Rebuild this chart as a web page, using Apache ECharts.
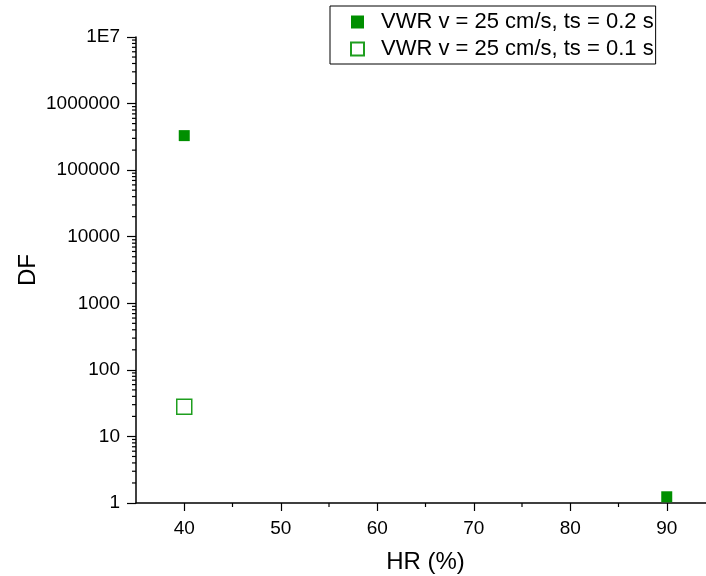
<!DOCTYPE html>
<html lang="en">
<head>
    <meta charset="UTF-8">
    <title>DF vs HR</title>
    <script src="https://cdn.jsdelivr.net/npm/echarts@6.0.0/dist/echarts.min.js"></script>
    <style>
        body { margin: 0; background: #fff; }
    </style>
</head>
<body>
    <div id="main" style="width: 706px;height:576px;"></div>
    <script type="text/javascript">
        // data
        const seriesNames = ['VWR v = 25 cm/s, ts = 0.2 s', 'VWR v = 25 cm/s, ts = 0.1 s'];
        const hrFilled = [40, 90];
        const dfFilled = [330000, 1.24];
        const hrOpen = [40];
        const dfOpen = [28];
        const xMinorTicks = [45, 55, 65, 75, 85];
        const yDecades = [1, 10, 100, 1000, 10000, 100000, 1000000];
        const yMinorSteps = [2, 3, 4, 5, 6, 7, 8, 9];

        const yMinorTicks = [];
        yDecades.forEach(d => yMinorSteps.forEach(s => yMinorTicks.push(d * s)));

        const font = 'Arial, "Liberation Sans", sans-serif';

        // short tick drawn through the axes' own scales
        function minorTick(dir) {
            return function (params, api) {
                const p = api.coord([api.value(0), api.value(1)]);
                const shape = dir === 'y'
                    ? { x1: p[0] - 4, y1: p[1], x2: p[0], y2: p[1] }
                    : { x1: p[0], y1: p[1], x2: p[0], y2: p[1] + 4 };
                return { type: 'line', shape: shape, style: { stroke: '#000', lineWidth: 1.2 } };
            };
        }

        let myChart = echarts.init(document.getElementById('main'));

        let options = {
            animation: false,
            grid: { left: 136, top: 37, right: -9, bottom: 73, outerBoundsMode: 'none', containLabel: false },
            legend: {
                orient: 'vertical',
                left: 330, top: 6,
                padding: [5, 2, 4, 20],
                borderColor: '#000',
                borderWidth: 1,
                itemWidth: 13, itemHeight: 13,
                itemGap: 5,
                textStyle: { fontFamily: font, fontSize: 22, color: '#000', padding: [0, 0, 0, 12] },
                data: seriesNames
            },
            xAxis: {
                type: 'value',
                min: 35, max: 95,
                name: 'HR (%)',
                nameLocation: 'middle',
                nameGap: 47,
                nameMoveOverlap: false,
                nameTextStyle: { fontFamily: font, fontSize: 24, color: '#000' },
                axisLine: { lineStyle: { color: '#000', width: 1.5 } },
                axisTick: { show: true, length: 8, lineStyle: { color: '#000', width: 1.2 } },
                axisLabel: { fontFamily: font, fontSize: 19, color: '#000', margin: 16, showMinLabel: false, showMaxLabel: false },
                splitLine: { show: false }
            },
            yAxis: {
                type: 'log',
                logBase: 10,
                min: 1, max: 10000000,
                splitNumber: 7,
                name: 'DF',
                nameLocation: 'middle',
                nameGap: 96,
                nameMoveOverlap: false,
                nameTextStyle: { fontFamily: font, fontSize: 24, color: '#000' },
                axisLine: { lineStyle: { color: '#000', width: 1.5 } },
                axisTick: { show: true, length: 9, lineStyle: { color: '#000', width: 1.2 } },
                axisLabel: {
                    fontFamily: font, fontSize: 19, color: '#000', margin: 16,
                    formatter: v => v >= 10000000 ? '1E7' : String(Math.round(v))
                },
                splitLine: { show: false }
            },
            series: [
                {
                    name: seriesNames[0],
                    type: 'scatter',
                    symbol: 'rect',
                    symbolSize: 11,
                    itemStyle: { color: '#008f00', opacity: 1 },
                    data: hrFilled.map((x, i) => [x, dfFilled[i]]),
                    z: 5
                },
                {
                    name: seriesNames[1],
                    type: 'scatter',
                    symbol: 'rect',
                    symbolSize: 15,
                    itemStyle: { color: 'rgba(255,255,255,0)', borderColor: '#1e9e1e', borderWidth: 1.5, opacity: 1 },
                    data: hrOpen.map((x, i) => [x, dfOpen[i]]),
                    z: 5
                },
                {
                    type: 'custom',
                    silent: true,
                    clip: false,
                    renderItem: minorTick('y'),
                    data: yMinorTicks.map(v => [35, v])
                },
                {
                    type: 'custom',
                    silent: true,
                    clip: false,
                    renderItem: minorTick('x'),
                    data: xMinorTicks.map(v => [v, 1])
                }
            ]
        };

        myChart.setOption(options);
    </script>
</body>
</html>
